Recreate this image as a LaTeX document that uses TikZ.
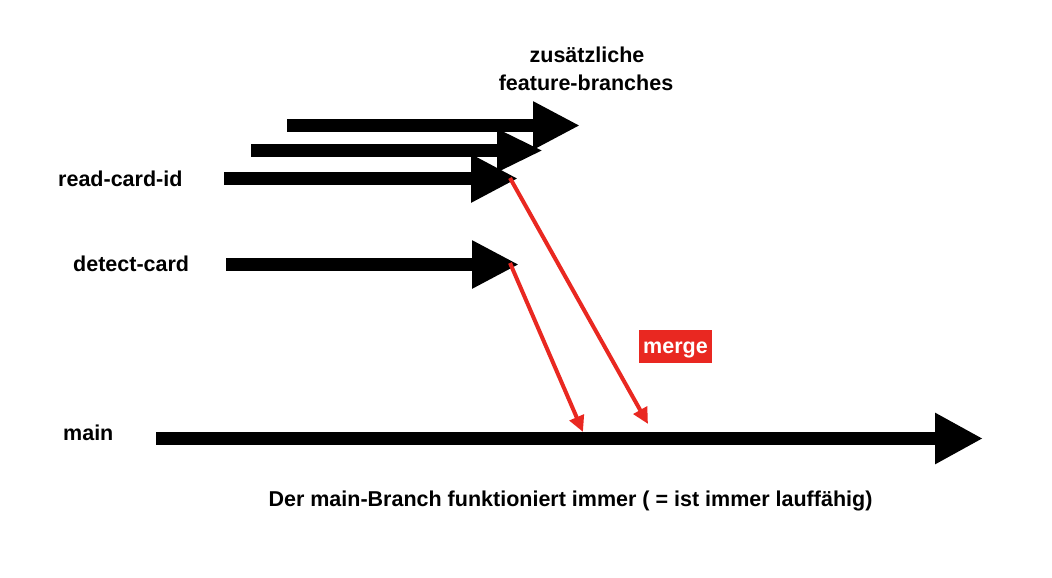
\documentclass[tikz,border=0pt]{standalone}
\usepackage{fontspec}
\setmainfont{Liberation Sans}
\usetikzlibrary{arrows.meta}
\definecolor{mergered}{RGB}{233,40,33}
\tikzset{
  branch/.style={line width=13pt,-{Triangle[length=47pt,width=45pt]}},
  mergearrow/.style={draw=mergered,line width=4pt,-{Triangle[length=16pt,width=15pt]}},
  lbl/.style={inner sep=0pt,anchor=base west},
}
\begin{document}
\begin{tikzpicture}[x=1pt,y=-1pt,font=\bfseries\fontsize{21.5pt}{26pt}\selectfont]
		\useasboundingbox (0,0) rectangle (1052,578);
		% branch start and tip points
		\coordinate (featBstart) at (287,125.5);  \coordinate (featBtip) at (580,125.5);
		\coordinate (featAstart) at (251,150.5);  \coordinate (featAtip) at (543,150.5);
		\coordinate (readstart) at (224,178.5);   \coordinate (readtip) at (518,178.5);
		\coordinate (detectstart) at (226,264.5); \coordinate (detecttip) at (519,264.5);
		\coordinate (mainstart) at (156,438.5);   \coordinate (maintip) at (983,438.5);
		\draw[branch] (featBstart)--(featBtip);
		\draw[branch,-{Triangle[length=46pt,width=40pt]}] (featAstart)--(featAtip);
		\draw[branch] (readstart)--(readtip);
		\draw[branch] (detectstart)--(detecttip);
		\draw[branch,-{Triangle[length=48pt,width=48pt]}] (mainstart)--(maintip);
		% labels
		\node[lbl] (readlbl) at (58,186.5) {read-card-id};
		\node[lbl] (detectlbl) at (73,271) {detect-card};
		\node[lbl] (mainlbl) at (63,440) {main};
		\node[inner sep=0pt,anchor=base] (extra1) at (587,63) {zusätzliche};
		\node[inner sep=0pt,anchor=base] (extra2) at (586,90) {feature-branches};
		\node[inner sep=0pt,anchor=base] (note) at (570.5,506) {Der main-Branch funktioniert immer ( = ist immer lauffähig)};
		% merges
		\coordinate (readmerge) at (510,178);   \coordinate (readin) at (648,424);
		\coordinate (detectmerge) at (510,263); \coordinate (detectin) at (583,432);
		\draw[mergearrow] (detectmerge)--(detectin);
		\draw[mergearrow] (readmerge)--(readin);
		\node[fill=mergered,text=white,inner sep=0pt,text height=14pt,text depth=0pt,minimum width=73pt,minimum height=33pt] (merge) at (675.5,346.5) {merge};
\end{tikzpicture}
\end{document}
